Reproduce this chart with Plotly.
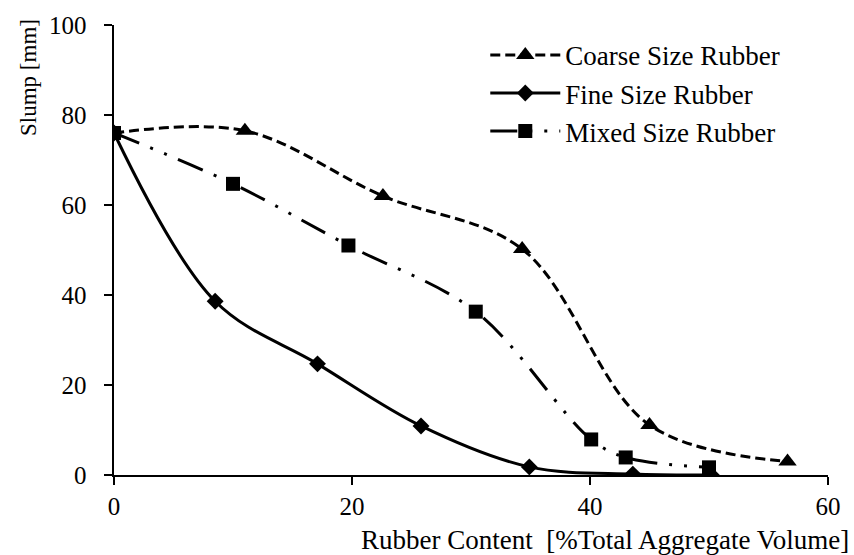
import plotly.graph_objects as go

# Rubber content [% of total aggregate volume] and slump [mm]
coarse_x = [0, 11.0, 22.6, 34.3, 45.0, 56.6]
coarse_y = [76.0, 76.5, 62.0, 50.2, 11.1, 3.0]

fine_x = [0, 8.5, 17.1, 25.8, 34.9, 43.6, 50.2]
fine_y = [76.0, 38.6, 24.7, 10.9, 1.8, 0.2, 0.0]

mixed_x = [0, 10.0, 19.7, 30.4, 40.1, 43.0, 50.0]
mixed_y = [76.0, 64.7, 51.0, 36.3, 7.9, 3.9, 1.7]

x_ticks = [0, 20, 40, 60]
y_ticks = [0, 20, 40, 60, 80, 100]

FONT = "Liberation Serif, Times New Roman, serif"
FS = 27       # legend and x title
TICK_FS = 25  # tick labels
YT_FS = 23    # y title

fig = go.Figure()

fig.add_trace(go.Scatter(
    x=coarse_x, y=coarse_y, name="Coarse Size Rubber",
    mode="lines+markers",
    line=dict(color="black", width=3, dash="10px,5px", shape="spline", smoothing=1.0),
    marker=dict(symbol="triangle-up", size=16, color="black"),
))
fig.add_trace(go.Scatter(
    x=fine_x, y=fine_y, name="Fine Size Rubber",
    mode="lines+markers",
    line=dict(color="black", width=3, shape="spline", smoothing=1.0),
    marker=dict(symbol="diamond", size=13, color="black"),
))
fig.add_trace(go.Scatter(
    x=mixed_x, y=mixed_y, name="Mixed Size Rubber",
    mode="lines+markers",
    line=dict(color="black", width=3, dash="27px,12px,3px,12px,3px,12px",
              shape="spline", smoothing=1.0),
    marker=dict(symbol="square", size=14, color="black"),
))

fig.update_layout(
    width=854, height=555,
    margin=dict(l=114, r=26, t=23, b=80),
    paper_bgcolor="white", plot_bgcolor="white",
    font=dict(family=FONT, size=FS, color="black"),
    showlegend=True,
    legend=dict(
        x=0.52, y=0.987, xanchor="left", yanchor="top",
        bgcolor="rgba(0,0,0,0)", itemwidth=70,
        font=dict(family=FONT, size=FS, color="black"),
        tracegroupgap=0,
    ),
    xaxis=dict(
        range=[0, 60], tickvals=x_ticks, ticktext=[str(v) for v in x_ticks],
        showgrid=False, zeroline=False,
        showline=True, linecolor="black", linewidth=2,
        ticks="outside", ticklen=8, tickwidth=2, tickcolor="black",
        tickfont=dict(family=FONT, size=TICK_FS),
    ),
    yaxis=dict(
        range=[0, 100], tickvals=y_ticks,
        # en space after each label keeps the numbers clear of the tick marks
        ticktext=[f"{v}\u2002" for v in y_ticks],
        showgrid=False, zeroline=False,
        showline=True, linecolor="black", linewidth=2,
        ticks="outside", ticklen=8, tickwidth=2, tickcolor="black",
        tickfont=dict(family=FONT, size=TICK_FS),
    ),
    annotations=[
        dict(text="Slump [mm]", textangle=-90, showarrow=False,
             xref="paper", yref="paper", x=-0.12, y=0.883,
             xanchor="center", yanchor="middle",
             font=dict(family=FONT, size=YT_FS)),
        dict(text="Rubber Content\u00a0 [%Total Aggregate Volume]", showarrow=False,
             xref="paper", yref="paper", x=1.032, y=-0.144,
             xanchor="right", yanchor="middle",
             font=dict(family=FONT, size=FS)),
    ],
)

fig.write_html("out.html")
